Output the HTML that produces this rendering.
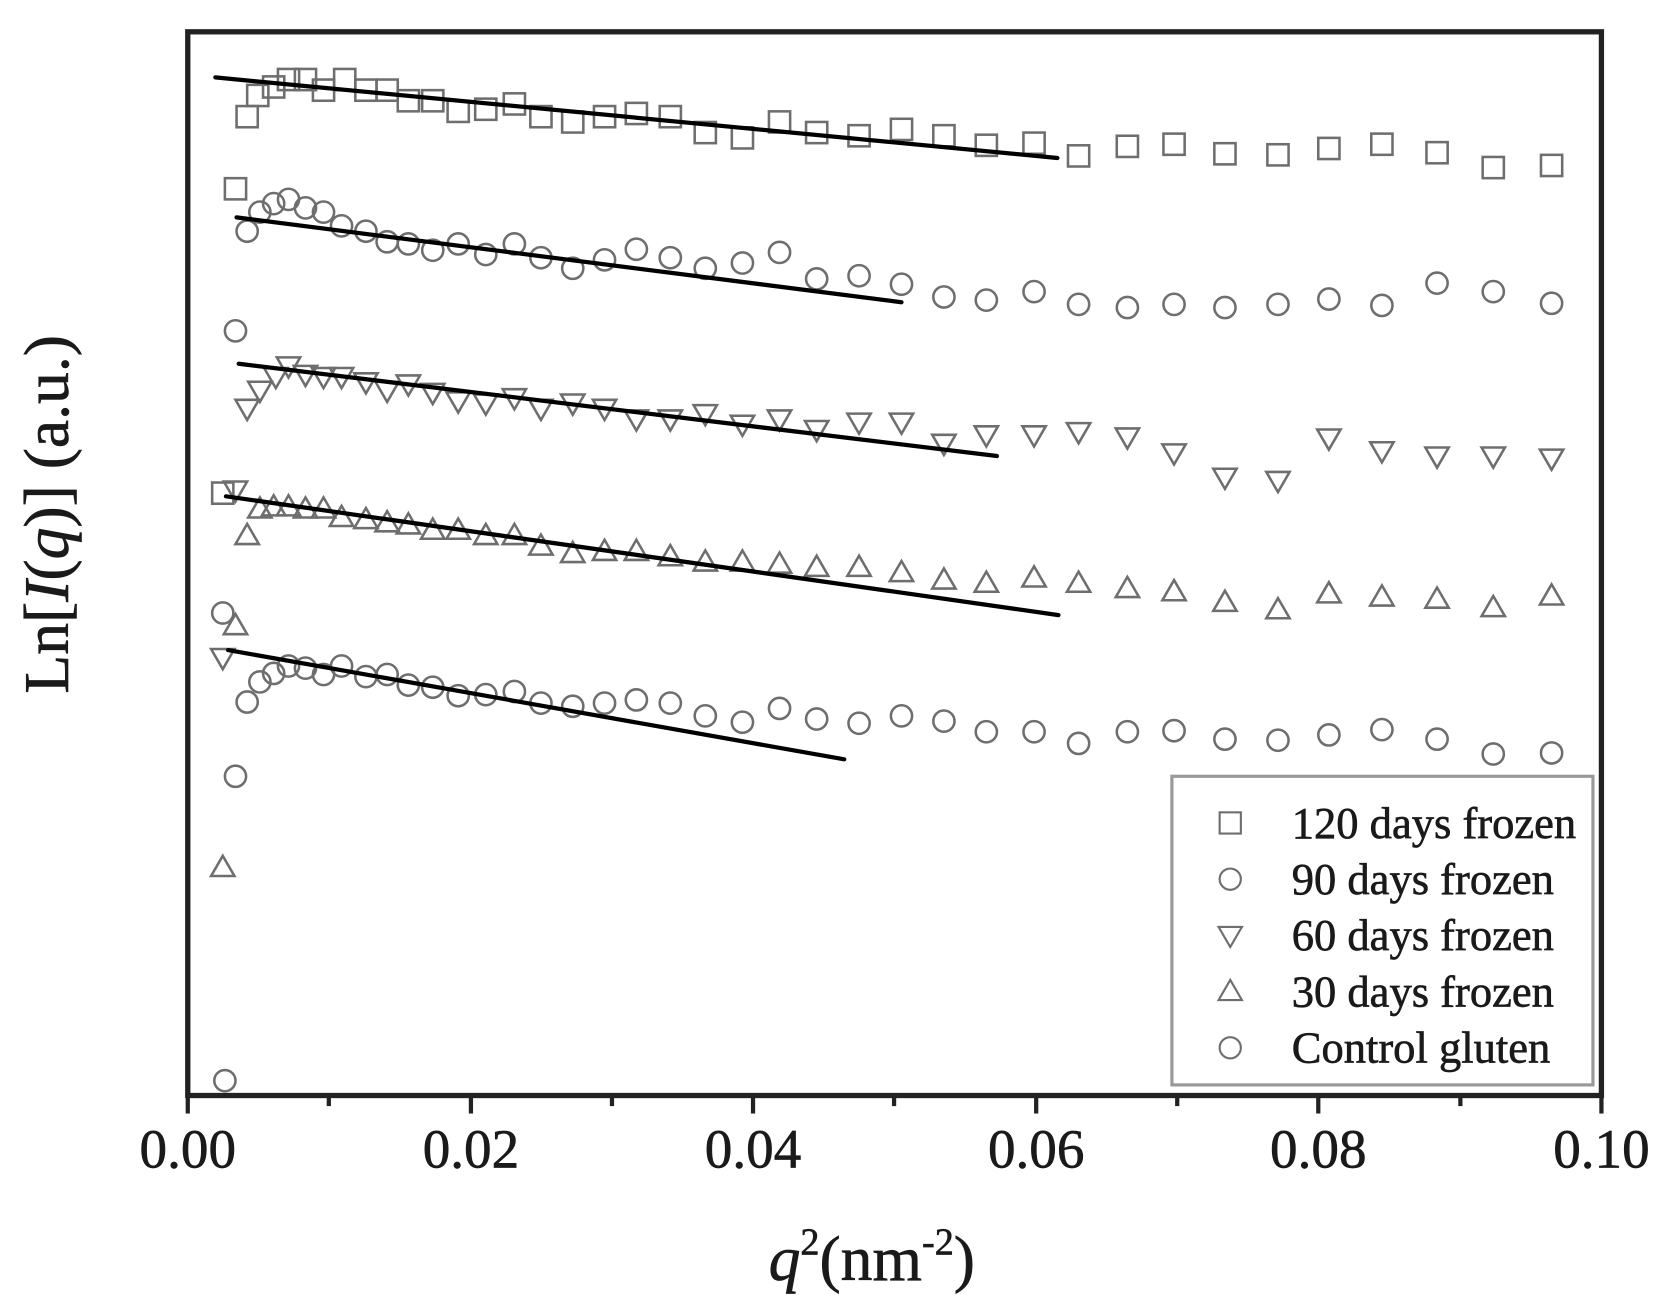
<!DOCTYPE html>
<html><head><meta charset="utf-8"><style>
html,body{margin:0;padding:0;background:#fff;}
svg{display:block}
text{font-family:"Liberation Serif",serif;fill:#1a1a1a;stroke:#1a1a1a;stroke-width:0.6}
</style></head><body>
<svg id="s" width="1663" height="1297" viewBox="0 0 1568 1223" xmlns="http://www.w3.org/2000/svg">
<rect x="0" y="0" width="1568" height="1223" fill="#fff"/>
<g id="m" fill="none" stroke="#6e6e6e" stroke-width="2.4"></g>
<g stroke="#000" stroke-width="4" stroke-linecap="round">
<line x1="203" y1="73" x2="997" y2="149"/>
<line x1="223" y1="205" x2="850" y2="285"/>
<line x1="225" y1="343" x2="940" y2="430"/>
<line x1="213" y1="468" x2="998" y2="580"/>
<line x1="215" y1="613" x2="796" y2="716"/>
</g>
<rect x="177" y="30" width="1333" height="1003" fill="none" stroke="#222" stroke-width="5"/>
<g stroke="#222" stroke-width="4">
<line x1="177" y1="1033" x2="177" y2="1050"/><line x1="310" y1="1033" x2="310" y2="1043"/>
<line x1="444" y1="1033" x2="444" y2="1050"/><line x1="577" y1="1033" x2="577" y2="1043"/>
<line x1="710" y1="1033" x2="710" y2="1050"/><line x1="843" y1="1033" x2="843" y2="1043"/>
<line x1="977" y1="1033" x2="977" y2="1050"/><line x1="1110" y1="1033" x2="1110" y2="1043"/>
<line x1="1243" y1="1033" x2="1243" y2="1050"/><line x1="1377" y1="1033" x2="1377" y2="1043"/>
<line x1="1510" y1="1033" x2="1510" y2="1050"/>
</g>
<g font-size="52" text-anchor="middle">
<text x="177" y="1101">0.00</text><text x="444" y="1101">0.02</text><text x="710" y="1101">0.04</text>
<text x="977" y="1101">0.06</text><text x="1243" y="1101">0.08</text><text x="1510" y="1101">0.10</text>
</g>
<text x="822" y="1207" font-size="60" text-anchor="middle"><tspan font-style="italic">q</tspan><tspan font-size="36" dy="-24">2</tspan><tspan dy="24">(nm</tspan><tspan font-size="36" dy="-24">-2</tspan><tspan dy="24">)</tspan></text>
<text transform="translate(64,485) rotate(-90)" font-size="60" text-anchor="middle">Ln[<tspan font-style="italic">I</tspan>(<tspan font-style="italic">q</tspan>)] (a.u.)</text>
<rect x="1105" y="732" width="397" height="291" fill="#fff" stroke="#999" stroke-width="3"/>
<g id="lg" fill="none" stroke="#6e6e6e" stroke-width="2"></g>
<g font-size="42">
<text x="1218" y="790">120 days frozen</text>
<text x="1218" y="843">90 days frozen</text>
<text x="1218" y="896">60 days frozen</text>
<text x="1218" y="949">30 days frozen</text>
<text x="1218" y="1002">Control gluten</text>
</g>
</svg>
<script>
var NS="http://www.w3.org/2000/svg",g=document.getElementById('m'),lg=document.getElementById('lg');
function mk(p,t,x,y,r){var e;
 if(t=='s'){e=document.createElementNS(NS,'rect');e.setAttribute('x',x-r);e.setAttribute('y',y-r);e.setAttribute('width',2*r);e.setAttribute('height',2*r);}
 else if(t=='c'){e=document.createElementNS(NS,'circle');e.setAttribute('cx',x);e.setAttribute('cy',y);e.setAttribute('r',r);}
 else if(t=='d'){e=document.createElementNS(NS,'polygon');e.setAttribute('points',(x-r*1.1)+','+(y-r*0.8)+' '+(x+r*1.1)+','+(y-r*0.8)+' '+x+','+(y+r*1.1));}
 else {e=document.createElementNS(NS,'polygon');e.setAttribute('points',(x-r*1.1)+','+(y+r*0.8)+' '+(x+r*1.1)+','+(y+r*0.8)+' '+x+','+(y-r*1.1));}
 p.appendChild(e);}
var S={
s:[[210,465],[222,178],[233,110],[243,90],[258,82],[272,75],[288,75],[305,85],[325,75],[345,85],[365,85],[385,95],[408,95],[432,105],[458,103],[485,98],[510,110],[540,115],[570,110],[600,107],[632,110],[665,125],[700,130],[735,115],[770,125],[810,128],[850,122],[890,128],[930,137],[975,135],[1017,147],[1063,138],[1107,136],[1155,145],[1205,146],[1253,140],[1303,136],[1355,144],[1408,158],[1463,156]],
c:[[222,312],[233,218],[245,200],[258,192],[272,188],[288,196],[305,200],[322,213],[345,218],[365,228],[385,230],[408,236],[432,230],[458,240],[485,230],[510,243],[540,253],[570,245],[600,235],[632,243],[665,253],[700,248],[735,238],[770,263],[810,260],[850,268],[890,280],[930,283],[975,275],[1017,287],[1063,290],[1107,287],[1155,290],[1205,287],[1253,282],[1303,288],[1355,267],[1408,275],[1463,286],
[210,578],[222,732],[233,662],[245,643],[258,635],[272,628],[288,630],[305,636],[322,628],[345,638],[365,636],[385,646],[408,648],[432,656],[458,655],[485,652],[510,663],[540,666],[570,663],[600,660],[632,663],[665,675],[700,681],[735,668],[770,678],[810,682],[850,675],[890,680],[930,690],[975,690],[1017,701],[1063,690],[1107,689],[1155,697],[1205,698],[1253,693],[1303,688],[1355,697],[1408,711],[1463,710],[212,1019]],
d:[[210,620],[222,462],[233,385],[245,368],[260,355],[272,345],[288,353],[305,355],[322,355],[345,360],[365,368],[385,362],[408,370],[432,378],[458,380],[485,375],[510,385],[540,380],[570,385],[600,395],[632,395],[665,390],[700,400],[735,395],[770,405],[810,398],[850,398],[890,418],[930,410],[975,410],[1017,407],[1063,412],[1107,427],[1155,450],[1205,453],[1253,413],[1303,425],[1355,430],[1408,430],[1463,432]],
u:[[210,818],[222,590],[233,505],[245,480],[258,478],[272,478],[288,480],[305,480],[322,488],[345,490],[365,493],[385,495],[408,500],[432,500],[458,505],[485,505],[510,515],[540,522],[570,520],[600,520],[632,525],[665,530],[700,530],[735,532],[770,535],[810,535],[850,540],[890,547],[930,550],[975,545],[1017,550],[1063,555],[1107,558],[1155,568],[1205,575],[1253,560],[1303,563],[1355,565],[1408,573],[1463,562]]};
for(var k in S)S[k].forEach(function(p){mk(g,k,p[0],p[1],10);});
mk(lg,'s',1160,776,10);mk(lg,'c',1160,829,10);mk(lg,'d',1160,882,10);mk(lg,'u',1160,935,10);mk(lg,'c',1160,988,10);
</script>
</body></html>
